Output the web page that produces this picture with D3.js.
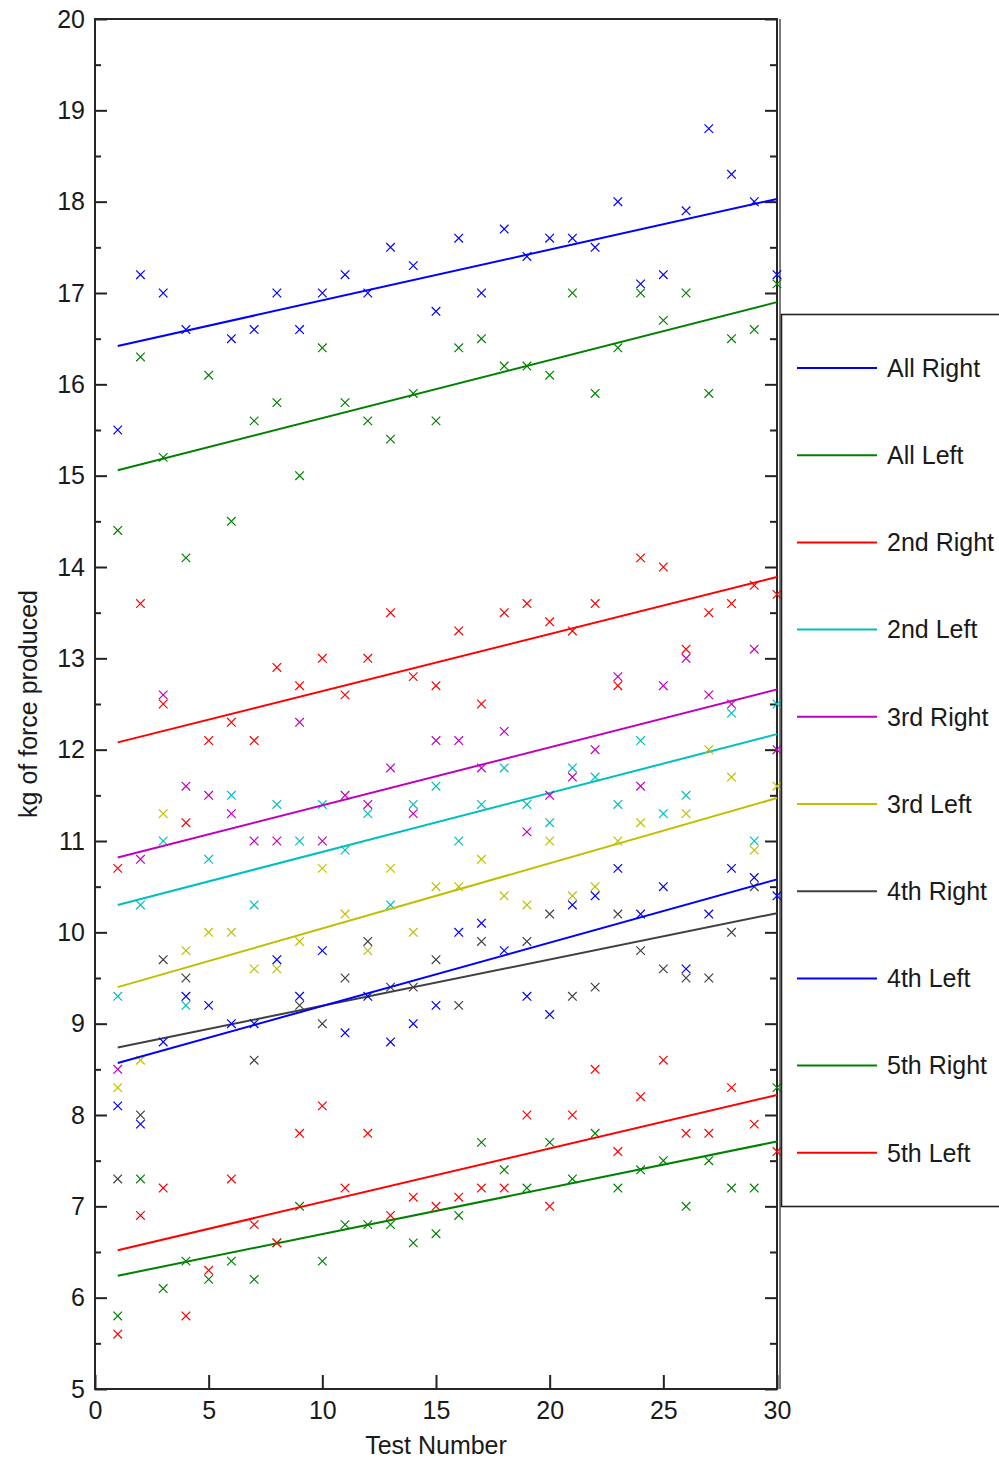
<!DOCTYPE html>
<html>
<head>
<meta charset="utf-8">
<script src="https://cdn.jsdelivr.net/npm/d3@7/dist/d3.min.js"></script>
<style>
  body { margin: 0; background: #fff; }
  text { font-family: "Liberation Sans", Arial, sans-serif; fill: #1a1a1a; }
</style>
</head>
<body>
<svg id="chart"></svg>
<script>
// test numbers on the x axis
var testNumbers = [1, 2, 3, 4, 5, 6, 7, 8, 9, 10, 11, 12, 13, 14, 15,
                   16, 17, 18, 19, 20, 21, 22, 23, 24, 25, 26, 27, 28, 29, 30];

var seriesNames = ["All Right", "All Left", "2nd Right", "2nd Left", "3rd Right",
                   "3rd Left", "4th Right", "4th Left", "5th Right", "5th Left"];
var seriesColors = ["#0000ff", "#008000", "#ff0000", "#00bfbf", "#bf00bf",
                    "#bfbf00", "#404040", "#0000ff", "#008000", "#ff0000"];

// measured kg of force, one value per test (null = not visible)
var allRight  = [15.5, 17.2, 17.0, 16.6, null, 16.5, 16.6, 17.0, 16.6, 17.0, 17.2, 17.0, 17.5, 17.3, 16.8,
                 17.6, 17.0, 17.7, 17.4, 17.6, 17.6, 17.5, 18.0, 17.1, 17.2, 17.9, 18.8, 18.3, 18.0, 17.2];
var allLeft   = [14.4, 16.3, 15.2, 14.1, 16.1, 14.5, 15.6, 15.8, 15.0, 16.4, 15.8, 15.6, 15.4, 15.9, 15.6,
                 16.4, 16.5, 16.2, 16.2, 16.1, 17.0, 15.9, 16.4, 17.0, 16.7, 17.0, 15.9, 16.5, 16.6, 17.1];
var right2nd  = [10.7, 13.6, 12.5, 11.2, 12.1, 12.3, 12.1, 12.9, 12.7, 13.0, 12.6, 13.0, 13.5, 12.8, 12.7,
                 13.3, 12.5, 13.5, 13.6, 13.4, 13.3, 13.6, 12.7, 14.1, 14.0, 13.1, 13.5, 13.6, 13.8, 13.7];
var left2nd   = [9.3, 10.3, 11.0, 9.2, 10.8, 11.5, 10.3, 11.4, 11.0, 11.4, 10.9, 11.3, 10.3, 11.4, 11.6,
                 11.0, 11.4, 11.8, 11.4, 11.2, 11.8, 11.7, 11.4, 12.1, 11.3, 11.5, null, 12.4, 11.0, 12.5];
var right3rd  = [8.5, 10.8, 12.6, 11.6, 11.5, 11.3, 11.0, 11.0, 12.3, 11.0, 11.5, 11.4, 11.8, 11.3, 12.1,
                 12.1, 11.8, 12.2, 11.1, 11.5, 11.7, 12.0, 12.8, 11.6, 12.7, 13.0, 12.6, 12.5, 13.1, 12.0];
var left3rd   = [8.3, 8.6, 11.3, 9.8, 10.0, 10.0, 9.6, 9.6, 9.9, 10.7, 10.2, 9.8, 10.7, 10.0, 10.5,
                 10.5, 10.8, 10.4, 10.3, 11.0, 10.4, 10.5, 11.0, 11.2, null, 11.3, 12.0, 11.7, 10.9, 11.6];
var right4th  = [7.3, 8.0, 9.7, 9.5, null, null, 8.6, null, 9.2, 9.0, 9.5, 9.9, 9.4, 9.4, 9.7,
                 9.2, 9.9, null, 9.9, 10.2, 9.3, 9.4, 10.2, 9.8, 9.6, 9.5, 9.5, 10.0, 10.5, null];
var left4th   = [8.1, 7.9, 8.8, 9.3, 9.2, 9.0, 9.0, 9.7, 9.3, 9.8, 8.9, 9.3, 8.8, 9.0, 9.2,
                 10.0, 10.1, 9.8, 9.3, 9.1, 10.3, 10.4, 10.7, 10.2, 10.5, 9.6, 10.2, 10.7, 10.6, 10.4];
var right5th  = [5.8, 7.3, 6.1, 6.4, 6.2, 6.4, 6.2, 6.6, 7.0, 6.4, 6.8, 6.8, 6.8, 6.6, 6.7,
                 6.9, 7.7, 7.4, 7.2, 7.7, 7.3, 7.8, 7.2, 7.4, 7.5, 7.0, 7.5, 7.2, 7.2, 8.3];
var left5th   = [5.6, 6.9, 7.2, 5.8, 6.3, 7.3, 6.8, 6.6, 7.8, 8.1, 7.2, 7.8, 6.9, 7.1, 7.0,
                 7.1, 7.2, 7.2, 8.0, 7.0, 8.0, 8.5, 7.6, 8.2, 8.6, 7.8, 7.8, 8.3, 7.9, 7.6];

// trend line values at test 1 and test 30
var fitStart = [16.42, 15.06, 12.08, 10.30, 10.82, 9.40, 8.74, 8.57, 6.24, 6.52];
var fitEnd   = [18.03, 16.90, 13.89, 12.17, 12.66, 11.47, 10.21, 10.58, 7.71, 8.22];

var yMajor = [5, 6, 7, 8, 9, 10, 11, 12, 13, 14, 15, 16, 17, 18, 19, 20];
var yMinor = [5.5, 6.5, 7.5, 8.5, 9.5, 10.5, 11.5, 12.5, 13.5, 14.5, 15.5, 16.5, 17.5, 18.5, 19.5];
var xTicks = [0, 5, 10, 15, 20, 25, 30];

var seriesValues = [allRight, allLeft, right2nd, left2nd, right3rd,
                    left3rd, right4th, left4th, right5th, left5th];

var W = 999, H = 1460;
var plotL = 95, plotR = 777, plotT = 19, plotB = 1389;

var svg = d3.select("#chart").attr("width", W).attr("height", H);

var x = d3.scaleLinear().domain([0, 30]).range([plotL, plotR]);
var y = d3.scaleLinear().domain([5, 20]).range([plotB, plotT]);

// axes
svg.append("g")
   .attr("transform", "translate(" + plotL + ",0)")
   .call(d3.axisLeft(y).tickValues(yMajor).tickSize(-12).tickPadding(10).tickFormat(d3.format("d")));
svg.append("g")
   .attr("transform", "translate(" + plotL + ",0)")
   .call(d3.axisLeft(y).tickValues(yMinor).tickSize(-6).tickFormat(""));
svg.append("g")
   .attr("transform", "translate(" + plotR + ",0)")
   .call(d3.axisRight(y).tickValues(yMajor).tickSize(-12).tickFormat(""));
svg.append("g")
   .attr("transform", "translate(" + plotR + ",0)")
   .call(d3.axisRight(y).tickValues(yMinor).tickSize(-7).tickFormat(""));
svg.append("g")
   .attr("transform", "translate(0," + plotB + ")")
   .call(d3.axisBottom(x).tickValues(xTicks).tickSize(-14).tickPadding(12).tickFormat(d3.format("d")));

svg.selectAll(".domain").remove();
svg.selectAll(".tick line").attr("stroke", "#222").attr("stroke-width", 2);
svg.selectAll(".tick text").style("font-size", "25px").attr("fill", "#1a1a1a");

// frame
svg.append("rect")
   .attr("x", plotL).attr("y", plotT)
   .attr("width", plotR - plotL).attr("height", plotB - plotT)
   .attr("fill", "none").attr("stroke", "#262626").attr("stroke-width", 2);
svg.append("line")
   .attr("x1", plotR + 3).attr("x2", plotR + 3).attr("y1", plotT).attr("y2", plotB)
   .attr("stroke", "#262626").attr("stroke-width", 1.2);

// data
var line = d3.line().x(function(d) { return x(d[0]); }).y(function(d) { return y(d[1]); });
var plot = svg.append("g");

seriesValues.forEach(function(vals, i) {
  var pts = testNumbers.map(function(t, j) { return [t, vals[j]]; })
                       .filter(function(p) { return p[1] != null; });
  var g = plot.append("g").attr("stroke", seriesColors[i]).attr("fill", "none");
  g.selectAll("path.mark")
   .data(pts)
   .enter()
   .append("path")
   .attr("class", "mark")
   .attr("stroke-width", 1.2)
   .attr("d", function(p) {
     var cx = x(p[0]), cy = y(p[1]), s = 4.3;
     return "M" + (cx - s) + "," + (cy - s) + "L" + (cx + s) + "," + (cy + s) +
            "M" + (cx - s) + "," + (cy + s) + "L" + (cx + s) + "," + (cy - s);
   });
  g.append("path")
   .attr("stroke-width", 2)
   .attr("d", line([[testNumbers[0], fitStart[i]], [testNumbers[29], fitEnd[i]]]));
});

// axis titles
svg.append("text")
   .attr("x", (plotL + plotR) / 2).attr("y", 1454)
   .attr("text-anchor", "middle")
   .style("font-size", "25px")
   .text("Test Number");
svg.append("text")
   .attr("transform", "translate(37," + (plotT + plotB) / 2 + ") rotate(-90)")
   .attr("text-anchor", "middle")
   .style("font-size", "25px")
   .text("kg of force produced");

// legend
var legend = svg.append("g");
legend.append("rect")
   .attr("x", 781.5).attr("y", 314.5).attr("width", 240).attr("height", 892)
   .attr("fill", "#fff").attr("stroke", "#222").attr("stroke-width", 1.6);

seriesNames.forEach(function(name, i) {
  var ly = 368 + i * 87.2;
  legend.append("line")
        .attr("x1", 797).attr("x2", 877).attr("y1", ly).attr("y2", ly)
        .attr("stroke", seriesColors[i]).attr("stroke-width", 2);
  legend.append("text")
        .attr("x", 887).attr("y", ly).attr("dy", "0.35em")
        .style("font-size", "25px")
        .text(name);
});
</script>
</body>
</html>
